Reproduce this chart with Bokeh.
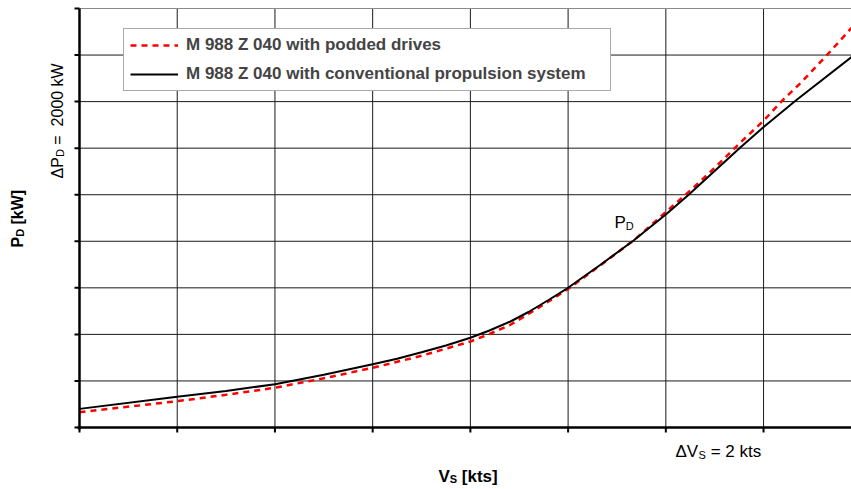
import math
from bokeh.plotting import figure
from bokeh.models import Label, Legend, LegendItem, Range1d
from bokeh.embed import file_html
from bokeh.resources import INLINE

# ---- data (V_S in kts, P_D in kW) ----
vs_conv = [10.0, 12.0, 13.0, 14.0, 15.0, 16.0, 16.5, 17.0, 17.5, 18.0, 18.39, 18.82, 19.19,
           19.6, 20.0, 20.67, 21.34, 22.0, 22.45, 23.53, 23.99, 24.66, 25.8]
pd_conv = [800, 1320, 1568, 1860, 2264, 2720, 2952, 3231, 3523, 3854, 4168, 4554, 4962,
           5478, 6002, 7003, 8034, 9152, 9968, 12043, 12890, 14050, 15910]

vs_pod = [10.0, 12.0, 13.0, 14.0, 15.0, 16.0, 17.0, 18.0, 18.39, 18.82, 19.19, 19.6, 20.0,
          20.67, 21.34, 21.83, 22.57, 22.98, 23.51, 24.0, 24.38, 24.76, 25.31, 25.8]
pd_pod = [657, 1130, 1405, 1706, 2114, 2565, 3081, 3695, 4017, 4413, 4877, 5414, 5951,
          6982, 8034, 8937, 10312, 11115, 12211, 13177, 14037, 14801, 16026, 17165]

x_ticks = [10, 12, 14, 16, 18, 20, 22, 24]
y_ticks = [0, 2000, 4000, 6000, 8000, 10000, 12000, 14000, 16000, 18000]

series_labels = ["M 988 Z 040 with podded drives",
                 "M 988 Z 040 with conventional propulsion system"]

FONT = "Liberation Sans"
NB = "\u00a0"

# canvas and plot-area geometry (pixels)
W, H = 851, 489
L, R, T, B = 79, 0, 8, 62
x0, x1 = 10.0, 25.8          # data span of the plot area
y0, y1 = 0.0, 18000.0
PW, PH = W - L - R, H - T - B

def dx(px):
    return x0 + (px - L) * (x1 - x0) / PW

def dy(py):
    return y1 - (py - T) * (y1 - y0) / PH

p = figure(width=W, height=H,
           x_range=Range1d(dx(0), dx(W)), y_range=Range1d(dy(H), dy(0)),
           x_axis_location=None, y_axis_location=None,
           output_backend="svg", toolbar_location=None,
           min_border_left=0, min_border_right=0, min_border_top=0, min_border_bottom=0)
p.outline_line_color = None
p.background_fill_color = "white"
p.border_fill_color = "white"
p.xgrid.visible = False
p.ygrid.visible = False

px_x = (x1 - x0) / PW     # data per pixel
px_y = (y1 - y0) / PH

# grid lines (inside the plot area)
vx = [t for t in x_ticks if t > x0]
p.segment(x0=vx, y0=[y0] * len(vx), x1=vx, y1=[y1] * len(vx),
          line_color="#1a1a1a", line_width=1)
hy = [t for t in y_ticks if y0 < t < y1]
p.segment(x0=[x0] * len(hy), y0=hy, x1=[x1] * len(hy), y1=hy,
          line_color="#1a1a1a", line_width=1)
p.segment(x0=[x0], y0=[y1], x1=[x1], y1=[y1], line_color="#8a8a8a", line_width=1.2)

# curves
r_pod = p.line(vs_pod, pd_pod, line_color="red", line_width=2.5, line_dash="6 5")
r_conv = p.line(vs_conv, pd_conv, line_color="black", line_width=2)

# axes with outward ticks
p.segment(x0=[x0], y0=[y0 - 2 * px_y], x1=[x0], y1=[y1], line_color="black", line_width=2.5)
p.segment(x0=[x0 - 2 * px_x], y0=[y0], x1=[x1], y1=[y0], line_color="black", line_width=2.5)
p.segment(x0=[x0 - 5 * px_x] * len(y_ticks), y0=y_ticks, x1=[x0] * len(y_ticks), y1=y_ticks,
          line_color="black", line_width=2)
p.segment(x0=x_ticks, y0=[y0 - 5 * px_y] * len(x_ticks), x1=x_ticks, y1=[y0] * len(x_ticks),
          line_color="black", line_width=2)

legend = Legend(items=[LegendItem(label=series_labels[0], renderers=[r_pod]),
                       LegendItem(label=series_labels[1], renderers=[r_conv])],
                location=(123, H - 91), orientation="vertical")
legend.label_text_font = FONT
legend.label_text_font_style = "bold"
legend.label_text_font_size = "17px"
legend.padding = 6
legend.spacing = 9
legend.glyph_height = 20
legend.label_height = 20
legend.glyph_width = 48
legend.label_standoff = 8
legend.label_width = 418
legend.border_line_color = "#555555"
legend.border_line_width = 1
legend.background_fill_alpha = 1.0
legend.margin = 0
p.add_layout(legend)

def lab(px, py, text, size, bold=False, angle=0.0):
    lb = Label(x=dx(px), y=dy(py), text=text, text_font=FONT,
               text_font_size=f"{size}px", text_font_style="bold" if bold else "normal",
               text_align="left", text_baseline="alphabetic", angle=angle,
               text_color="black")
    p.add_layout(lb)

up = math.pi / 2
# y axis title (rotated)
lab(17, 247, "P", 16, True, up)
lab(19, 236.3, "D", 11, True, up)
lab(17, 228.5, NB + "[kW]", 16, True, up)
# delta P annotation (rotated)
lab(57, 178, "\u0394P", 16, False, up)
lab(59, 156.6, "D", 11, False, up)
lab(57, 148.6, NB + "=" + NB + NB + "2000" + NB + "kW", 16, False, up)
# x axis title
lab(438, 476, "V", 17, True)
lab(449.3, 478.5, "S", 11, True)
lab(456.6, 476, NB + "[kts]", 17, True)
# delta V annotation
lab(675, 451, "\u0394V", 17, False)
lab(698, 454, "S", 11, False)
lab(705.5, 451, NB + "=" + NB + "2" + NB + "kts", 17, False)
# curve label
lab(614, 222, "P", 17, False)
lab(625.3, 225.5, "D", 11, False)

open("out.html", "w").write(file_html(p, INLINE))
